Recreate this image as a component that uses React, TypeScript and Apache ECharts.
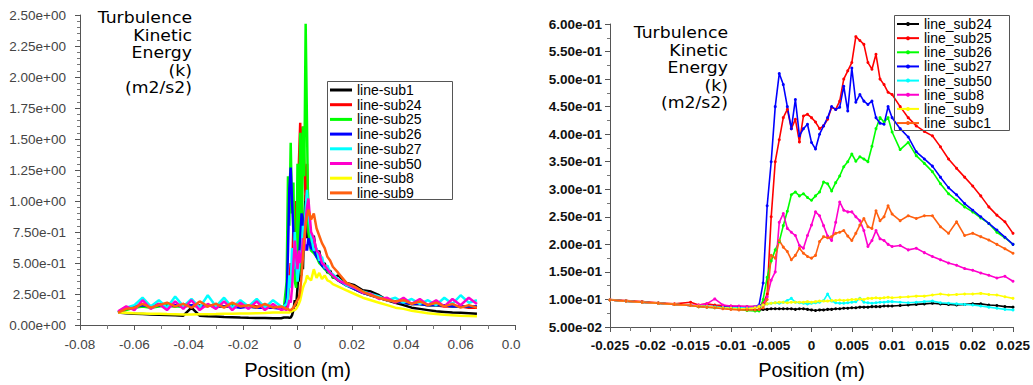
import React, { useEffect, useRef } from 'react';
import * as echarts from 'echarts';

// ---------- Left chart data ----------
const X_LEFT = [
  -0.066, -0.063, -0.06, -0.057, -0.054, -0.051, -0.048, -0.045, -0.042, -0.039, -0.036,
  -0.033, -0.03, -0.027, -0.024, -0.021, -0.018, -0.015, -0.012, -0.009, -0.006,
  -0.005, -0.004, -0.0035, -0.003, -0.0025, -0.002, -0.0015, -0.001, -0.0005, 0, 0.0005,
  0.001, 0.0015, 0.002, 0.0025, 0.003, 0.0035, 0.004, 0.005, 0.006, 0.007, 0.008, 0.009,
  0.01, 0.011, 0.012, 0.013,
  0.015, 0.018, 0.021, 0.024, 0.027, 0.03, 0.033, 0.036, 0.039, 0.042, 0.045, 0.048,
  0.051, 0.054, 0.057, 0.06, 0.063, 0.066,
];

const L_SUB1 = [
  0.1, 0.095, 0.09, 0.088, 0.085, 0.083, 0.08, 0.078, 0.075, 0.14, 0.075, 0.07, 0.068, 0.065,
  0.063, 0.06, 0.058, 0.057, 0.056, 0.055, 0.055,
  0.06, 0.06, 0.06, 0.058, 0.06, 0.08, 0.12, 0.2, 0.15, 0.3, 0.5, 0.35, 0.6, 0.45, 0.85, 1.05,
  0.7, 0.85, 0.6, 0.72, 0.55, 0.6, 0.48, 0.5, 0.42, 0.44, 0.38,
  0.4, 0.34, 0.32, 0.28, 0.27, 0.24, 0.2, 0.18, 0.16, 0.14, 0.13, 0.12, 0.11, 0.105, 0.1,
  0.098, 0.095, 0.09,
];
const L_SUB24 = [
  0.1, 0.13, 0.15, 0.16, 0.15, 0.17, 0.16, 0.15, 0.17, 0.15, 0.16, 0.15, 0.17, 0.15, 0.16,
  0.15, 0.16, 0.15, 0.15, 0.14, 0.14,
  0.14, 0.15, 0.2, 0.35, 0.5, 0.4, 0.8, 0.6, 1.0, 0.7, 1.3, 1.63, 1.1, 1.6, 1.3, 1.0, 1.3,
  0.9, 0.7, 0.65, 0.58, 0.55, 0.5, 0.48, 0.45, 0.42, 0.4,
  0.36, 0.33, 0.29, 0.26, 0.24, 0.22, 0.2, 0.19, 0.18, 0.17, 0.17, 0.16, 0.16, 0.15, 0.15,
  0.15, 0.14, 0.14,
];
const L_SUB25 = [
  0.1, 0.12, 0.14, 0.15, 0.14, 0.15, 0.16, 0.15, 0.15, 0.16, 0.15, 0.16, 0.15, 0.15, 0.16,
  0.15, 0.15, 0.14, 0.15, 0.14, 0.14,
  0.14, 0.35, 1.2, 0.8, 1.47, 0.9, 1.15, 0.35, 0.3, 1.3, 0.55, 1.55, 0.4, 1.6, 1.2, 2.43, 1.6,
  0.75, 0.6, 0.58, 0.55, 0.5, 0.48, 0.45, 0.43, 0.41, 0.39,
  0.36, 0.32, 0.29, 0.26, 0.24, 0.22, 0.2, 0.19, 0.18, 0.17, 0.17, 0.16, 0.16, 0.16, 0.15,
  0.15, 0.15, 0.15,
];
const L_SUB26 = [
  0.1, 0.13, 0.15, 0.16, 0.15, 0.16, 0.15, 0.16, 0.15, 0.16, 0.15, 0.16, 0.15, 0.15, 0.15,
  0.14, 0.15, 0.14, 0.14, 0.14, 0.13,
  0.13, 0.2, 0.6, 1.1, 1.27, 1.0, 0.75, 0.6, 0.45, 0.39, 0.5, 0.7, 0.9, 0.8, 0.6, 0.65, 0.6,
  0.7, 0.62, 0.6, 0.55, 0.52, 0.48, 0.46, 0.44, 0.42, 0.4,
  0.36, 0.32, 0.29, 0.26, 0.24, 0.22, 0.2, 0.19, 0.18, 0.17, 0.17, 0.16, 0.16, 0.16, 0.15,
  0.15, 0.15, 0.15,
];
const L_SUB27 = [
  0.1, 0.14, 0.16, 0.22, 0.15, 0.2, 0.14, 0.23, 0.15, 0.21, 0.14, 0.24, 0.15, 0.22, 0.14,
  0.2, 0.15, 0.21, 0.14, 0.2, 0.15,
  0.15, 0.17, 0.22, 0.4, 0.3, 0.62, 0.45, 0.75, 0.5, 0.35, 0.45, 0.6, 0.55, 0.8, 0.7, 0.95,
  1.09, 0.9, 0.72, 0.6, 0.62, 0.52, 0.55, 0.46, 0.48, 0.42, 0.41,
  0.37, 0.32, 0.3, 0.27, 0.25, 0.23, 0.2, 0.22, 0.18, 0.21, 0.17, 0.2, 0.16, 0.22, 0.17,
  0.24, 0.18, 0.2,
];
const L_SUB50 = [
  0.11, 0.15, 0.12, 0.2, 0.13, 0.17, 0.12, 0.19, 0.13, 0.2, 0.12, 0.17, 0.13, 0.19, 0.12,
  0.18, 0.13, 0.19, 0.12, 0.17, 0.12,
  0.13, 0.12, 0.15, 0.2, 0.18, 0.3, 0.5, 0.68, 0.55, 0.45, 0.6, 0.5, 0.55, 0.7, 0.6, 0.85,
  0.95, 1.02, 0.75, 0.7, 0.6, 0.58, 0.5, 0.48, 0.45, 0.42, 0.4,
  0.36, 0.33, 0.3, 0.26, 0.25, 0.21, 0.22, 0.18, 0.22, 0.17, 0.21, 0.16, 0.2, 0.15, 0.21,
  0.16, 0.22, 0.17,
];
const L_SUB8 = [
  0.1, 0.098, 0.095, 0.093, 0.09, 0.09, 0.088, 0.087, 0.085, 0.085, 0.086, 0.087, 0.088, 0.09,
  0.09, 0.092, 0.093, 0.095, 0.097, 0.1, 0.1,
  0.1, 0.1, 0.1, 0.1, 0.11, 0.11, 0.12, 0.12, 0.13, 0.15, 0.17, 0.2, 0.25, 0.3, 0.33, 0.35,
  0.4, 0.38, 0.36, 0.45, 0.38, 0.42, 0.37, 0.4, 0.36, 0.35, 0.33,
  0.31, 0.28, 0.25, 0.22, 0.2, 0.18, 0.16, 0.14, 0.13, 0.115, 0.105, 0.095, 0.088, 0.082,
  0.078, 0.074, 0.072, 0.07,
];
const L_SUB9 = [
  0.1, 0.13, 0.14, 0.17, 0.14, 0.16, 0.18, 0.15, 0.17, 0.14, 0.19, 0.15, 0.17, 0.14, 0.18,
  0.15, 0.16, 0.14, 0.17, 0.14, 0.15,
  0.14, 0.13, 0.13, 0.12, 0.12, 0.13, 0.14, 0.16, 0.18, 0.2, 0.22, 0.28, 0.4, 0.55, 0.7, 0.82,
  0.88, 0.93, 0.85, 0.9, 0.78, 0.72, 0.66, 0.62, 0.55, 0.52, 0.47,
  0.42, 0.34, 0.31, 0.27, 0.24, 0.22, 0.2, 0.19, 0.2, 0.17, 0.19, 0.16, 0.18, 0.15, 0.17,
  0.14, 0.16, 0.14,
];

const LEFT_NAMES = ['line-sub1', 'line-sub24', 'line-sub25', 'line-sub26', 'line-sub27', 'line-sub50', 'line-sub8', 'line-sub9'];
const LEFT_VALUES = [L_SUB1, L_SUB24, L_SUB25, L_SUB26, L_SUB27, L_SUB50, L_SUB8, L_SUB9];

// ---------- Right chart data ----------
const X_RIGHT = [
  -0.025, -0.023, -0.021, -0.019, -0.017, -0.015, -0.014, -0.013, -0.012, -0.011, -0.01,
  -0.009, -0.008, -0.007,
  -0.0065, -0.006, -0.0055, -0.005, -0.0045, -0.004, -0.0035, -0.003, -0.0025, -0.002,
  -0.0015, -0.001, -0.0005, 0, 0.0005, 0.001, 0.0015, 0.002, 0.0025, 0.003, 0.0035, 0.004,
  0.0045, 0.005, 0.0055, 0.006, 0.0065, 0.007, 0.0075, 0.008, 0.0085, 0.009, 0.0095, 0.01,
  0.011, 0.012, 0.013, 0.014, 0.015, 0.016, 0.017, 0.018, 0.019, 0.02, 0.021, 0.022, 0.023,
  0.024, 0.025,
];

const R_SUB24 = [
  0.099, 0.097, 0.095, 0.093, 0.091, 0.089, 0.088, 0.087, 0.086, 0.085, 0.084, 0.083, 0.082, 0.081,
  0.081, 0.082, 0.082, 0.083, 0.083, 0.083, 0.083, 0.083, 0.083, 0.082, 0.083, 0.083, 0.082,
  0.081, 0.08, 0.081, 0.081, 0.082, 0.082, 0.083, 0.083, 0.084, 0.084, 0.085, 0.085, 0.086,
  0.086, 0.086, 0.087, 0.087, 0.087, 0.088, 0.088, 0.088,
  0.089, 0.09, 0.091, 0.092, 0.093, 0.092, 0.091, 0.09, 0.091, 0.092, 0.092, 0.09, 0.089,
  0.087, 0.086,
];
const R_SUB25 = [
  0.1, 0.098, 0.096, 0.094, 0.092, 0.095, 0.09, 0.092, 0.09, 0.089, 0.088, 0.087, 0.087, 0.087,
  0.088, 0.092, 0.11, 0.25, 0.35, 0.39, 0.43, 0.445, 0.41, 0.427, 0.386, 0.433, 0.436, 0.43,
  0.422, 0.41, 0.415, 0.427, 0.449, 0.445, 0.46, 0.5, 0.515, 0.53, 0.577, 0.57, 0.563, 0.53,
  0.518, 0.545, 0.5, 0.49, 0.476, 0.472,
  0.45, 0.43, 0.415, 0.405, 0.397, 0.377, 0.355, 0.338, 0.322, 0.306, 0.288, 0.268, 0.253,
  0.241, 0.22,
];
const R_SUB26 = [
  0.099, 0.097, 0.095, 0.093, 0.091, 0.089, 0.087, 0.086, 0.085, 0.084, 0.083, 0.082, 0.08, 0.079,
  0.079, 0.1, 0.14, 0.17, 0.19, 0.205, 0.234, 0.26, 0.29, 0.295, 0.288, 0.292, 0.285, 0.28,
  0.288, 0.295, 0.313, 0.31, 0.297, 0.312, 0.324, 0.341, 0.35, 0.364, 0.351, 0.359, 0.355,
  0.35, 0.378, 0.41, 0.43, 0.422, 0.43, 0.404,
  0.372, 0.385, 0.361, 0.347, 0.332, 0.31, 0.292, 0.28, 0.268, 0.259, 0.248, 0.238, 0.222,
  0.212, 0.2,
];
const R_SUB27 = [
  0.099, 0.097, 0.095, 0.093, 0.091, 0.089, 0.088, 0.087, 0.087, 0.086, 0.086, 0.086, 0.086, 0.087,
  0.09, 0.13, 0.27, 0.35, 0.45, 0.51, 0.49, 0.45, 0.41, 0.463, 0.397, 0.41, 0.418, 0.385,
  0.373, 0.4, 0.415, 0.43, 0.45, 0.445, 0.449, 0.487, 0.442, 0.52, 0.458, 0.472, 0.46, 0.454,
  0.46, 0.43, 0.42, 0.418, 0.45, 0.43,
  0.41, 0.395, 0.368, 0.355, 0.342, 0.322, 0.303, 0.29, 0.274, 0.262, 0.25, 0.238, 0.226,
  0.213, 0.2,
];
const R_SUB50 = [
  0.099, 0.097, 0.095, 0.093, 0.091, 0.089, 0.088, 0.087, 0.086, 0.085, 0.085, 0.085, 0.086, 0.087,
  0.088, 0.09, 0.092, 0.093, 0.094, 0.093, 0.095, 0.098, 0.102, 0.095, 0.094, 0.093, 0.092,
  0.093, 0.094, 0.095, 0.098, 0.11, 0.097, 0.094, 0.093, 0.093, 0.094, 0.095, 0.096, 0.102,
  0.095, 0.094, 0.093, 0.094, 0.095, 0.095, 0.096, 0.096,
  0.095, 0.094, 0.095, 0.096, 0.097, 0.094, 0.093, 0.092, 0.091, 0.09, 0.088, 0.086, 0.084,
  0.082, 0.081,
];
const R_SUB8 = [
  0.099, 0.097, 0.095, 0.093, 0.091, 0.089, 0.09, 0.092, 0.101, 0.09, 0.088, 0.088, 0.087, 0.087,
  0.088, 0.09, 0.105, 0.135, 0.15, 0.24, 0.256, 0.229, 0.222, 0.216, 0.198, 0.193, 0.216,
  0.235, 0.259, 0.252, 0.234, 0.215, 0.207, 0.24, 0.277, 0.262, 0.259, 0.259, 0.25, 0.243,
  0.225, 0.196, 0.207, 0.225, 0.21, 0.207, 0.2, 0.196,
  0.198, 0.19, 0.193, 0.185, 0.178, 0.172, 0.166, 0.162, 0.156, 0.153, 0.148, 0.144, 0.139,
  0.142, 0.133,
];
const R_SUB9 = [
  0.099, 0.097, 0.095, 0.093, 0.091, 0.089, 0.088, 0.087, 0.086, 0.085, 0.084, 0.083, 0.083, 0.085,
  0.087, 0.09, 0.092, 0.093, 0.094, 0.095, 0.095, 0.094, 0.095, 0.095, 0.095, 0.095, 0.096,
  0.095, 0.096, 0.097, 0.097, 0.097, 0.098, 0.098, 0.099, 0.098, 0.099, 0.1, 0.1, 0.101, 0.1,
  0.102, 0.102, 0.103, 0.102, 0.103, 0.104, 0.103,
  0.104, 0.105, 0.106, 0.106, 0.108, 0.11, 0.108, 0.109, 0.11, 0.11, 0.111, 0.109, 0.108,
  0.105, 0.102,
];
const R_SUBC1 = [
  0.099, 0.097, 0.095, 0.093, 0.091, 0.089, 0.087, 0.086, 0.085, 0.083, 0.082, 0.081, 0.081, 0.081,
  0.082, 0.085, 0.1, 0.18, 0.175, 0.207, 0.195, 0.187, 0.172, 0.18, 0.193, 0.184, 0.178, 0.175,
  0.18, 0.205, 0.214, 0.212, 0.214, 0.22, 0.222, 0.225, 0.215, 0.207, 0.22, 0.235, 0.247,
  0.232, 0.229, 0.261, 0.243, 0.25, 0.27, 0.255,
  0.243, 0.252, 0.247, 0.252, 0.252, 0.232, 0.22, 0.241, 0.216, 0.22, 0.214, 0.208, 0.2,
  0.192, 0.184,
];

const RIGHT_NAMES = ['line_sub24', 'line_sub25', 'line_sub26', 'line_sub27', 'line_sub50', 'line_sub8', 'line_sub9', 'line_subc1'];
const RIGHT_VALUES = [R_SUB24, R_SUB25, R_SUB26, R_SUB27, R_SUB50, R_SUB8, R_SUB9, R_SUBC1];

const COLORS = ['#000000', '#ff0000', '#00ff00', '#0000ff', '#00ffff', '#ff00cc', '#ffff00', '#ff6010'];

const TITLE_LINES = ['Turbulence', 'Kinetic', 'Energy', '(k)', '(m2/s2)'];
const X_NAME = 'Position (m)';

const FONT = '"Liberation Sans", Arial, sans-serif';
const TITLE_FONT = '"DejaVu Sans", "Liberation Sans", sans-serif';

function expFmt(v: number): string {
  if (Math.abs(v) < 1e-12) return '0.00e+00';
  const s = v.toExponential(2);
  const [m, e] = s.split('e');
  const n = parseInt(e, 10);
  return m + 'e' + (n < 0 ? '-' : '+') + String(Math.abs(n)).padStart(2, '0');
}
function posFmt(v: number): string {
  const r = Math.round(v * 1000) / 1000;
  return r === 0 ? '0' : String(r);
}

export default function App() {
  const ref = useRef<HTMLDivElement>(null);
  useEffect(() => {
    if (!ref.current) return;
    const chart = echarts.init(ref.current, null, { renderer: 'svg' });
    const axisLine = { onZero: false, lineStyle: { color: '#555', width: 1 } };
    const leftSeries = LEFT_NAMES.map((name, i) => ({
      name,
      type: 'line',
      xAxisIndex: 0,
      yAxisIndex: 0,
      symbol: 'none',
      lineStyle: { width: 2.5, color: COLORS[i] },
      itemStyle: { color: COLORS[i] },
      data: X_LEFT.map((x, j) => [x, LEFT_VALUES[i][j]]),
    }));
    const rightSeries = RIGHT_NAMES.map((name, i) => ({
      name,
      type: 'line',
      xAxisIndex: 1,
      yAxisIndex: 1,
      symbol: 'circle',
      symbolSize: 3,
      showSymbol: true,
      showAllSymbol: true,
      lineStyle: { width: 1.6, color: COLORS[i] },
      itemStyle: { color: COLORS[i] },
      data: X_RIGHT.map((x, j) => [x, RIGHT_VALUES[i][j]]),
    }));
    const titleEls = (rightX: number, firstCenterY: number) =>
      TITLE_LINES.map((t, k) => ({
        type: 'text', x: rightX, y: firstCenterY + k * 17.5, scaleX: 1.15, z: 100, silent: true,
        style: { text: t, font: '15px ' + TITLE_FONT, fill: '#000', align: 'right', verticalAlign: 'middle' },
      }));
    chart.setOption({
      animation: false,
      backgroundColor: '#ffffff',
      grid: [
        { left: 80, top: 15, width: 435, height: 310 },
        { left: 610, top: 24, width: 403, height: 305 },
      ],
      xAxis: [
        {
          type: 'value', gridIndex: 0, min: -0.08, max: 0.08, interval: 0.02,
          axisLine, axisTick: { show: true, length: 5, lineStyle: { color: '#555' } },
          minorTick: { show: true, splitNumber: 2, length: 4, lineStyle: { color: '#777' } },
          splitLine: { show: false },
          axisLabel: { formatter: posFmt, fontFamily: FONT, fontSize: 13.5, color: '#444', margin: 12 },
          name: X_NAME, nameLocation: 'middle', nameGap: 35,
          nameTextStyle: { fontFamily: FONT, fontSize: 20, color: '#000' },
        },
        {
          type: 'value', gridIndex: 1, min: -0.025, max: 0.025, interval: 0.005,
          axisLine, axisTick: { show: true, length: 5, lineStyle: { color: '#555' } },
          minorTick: { show: true, splitNumber: 2, length: 4, lineStyle: { color: '#777' } },
          splitLine: { show: false },
          axisLabel: { formatter: posFmt, fontFamily: FONT, fontSize: 13.5, fontWeight: 'bold', color: '#111', margin: 11 },
          name: X_NAME, nameLocation: 'middle', nameGap: 33,
          nameTextStyle: { fontFamily: FONT, fontSize: 20, color: '#000' },
        },
      ],
      yAxis: [
        {
          type: 'value', gridIndex: 0, min: 0, max: 2.5, interval: 0.25,
          axisLine: { show: true, onZero: false, lineStyle: { color: '#555', width: 1 } },
          axisTick: { show: true, length: 5, lineStyle: { color: '#555' } },
          minorTick: { show: true, splitNumber: 5, length: 3, lineStyle: { color: '#777' } },
          splitLine: { show: false },
          axisLabel: { formatter: expFmt, fontFamily: FONT, fontSize: 13.5, color: '#444', margin: 14 },
        },
        {
          type: 'value', gridIndex: 1, min: 0.05, max: 0.6, interval: 0.05,
          axisLine: { show: true, onZero: false, lineStyle: { color: '#555', width: 1 } },
          axisTick: { show: true, length: 5, lineStyle: { color: '#555' } },
          minorTick: { show: true, splitNumber: 2, length: 3, lineStyle: { color: '#777' } },
          splitLine: { show: false },
          axisLabel: { formatter: expFmt, fontFamily: FONT, fontSize: 13.5, fontWeight: 'bold', color: '#111', margin: 8 },
        },
      ],
      legend: [
        {
          data: LEFT_NAMES, orient: 'vertical', left: 330, top: 83, selectedMode: false,
          icon: 'rect', itemWidth: 22, itemHeight: 3, itemGap: 0.7, padding: 0,
          textStyle: { fontFamily: FONT, fontSize: 14, color: '#000', lineHeight: 14 },
        },
        {
          data: RIGHT_NAMES, orient: 'vertical', left: 896, top: 17, selectedMode: false,
          itemWidth: 22, itemHeight: 5, itemGap: 0.15, padding: 0,
          textStyle: { fontFamily: FONT, fontSize: 14, color: '#000', lineHeight: 14 },
        },
      ],
      graphic: [
        {
          type: 'rect', z: 100, silent: true,
          shape: { x: 327.5, y: 81.5, width: 125, height: 118 },
          style: { fill: 'none', stroke: '#555', lineWidth: 1 },
        },
        {
          type: 'rect', z: 100, silent: true,
          shape: { x: 894.5, y: 15.5, width: 115, height: 115 },
          style: { fill: 'none', stroke: '#555', lineWidth: 1 },
        },
        ...titleEls(192, 18),
        ...titleEls(728, 33),
        {
          type: 'rect', z: 100, silent: true,
          shape: { x: 521, y: 332, width: 14, height: 24 },
          style: { fill: '#ffffff' },
        },
      ],
      series: [...leftSeries, ...rightSeries],
    });
    return () => chart.dispose();
  }, []);
  return <div ref={ref} style={{ position: 'fixed', left: 0, top: 0, width: 1033, height: 385 }} />;
}
